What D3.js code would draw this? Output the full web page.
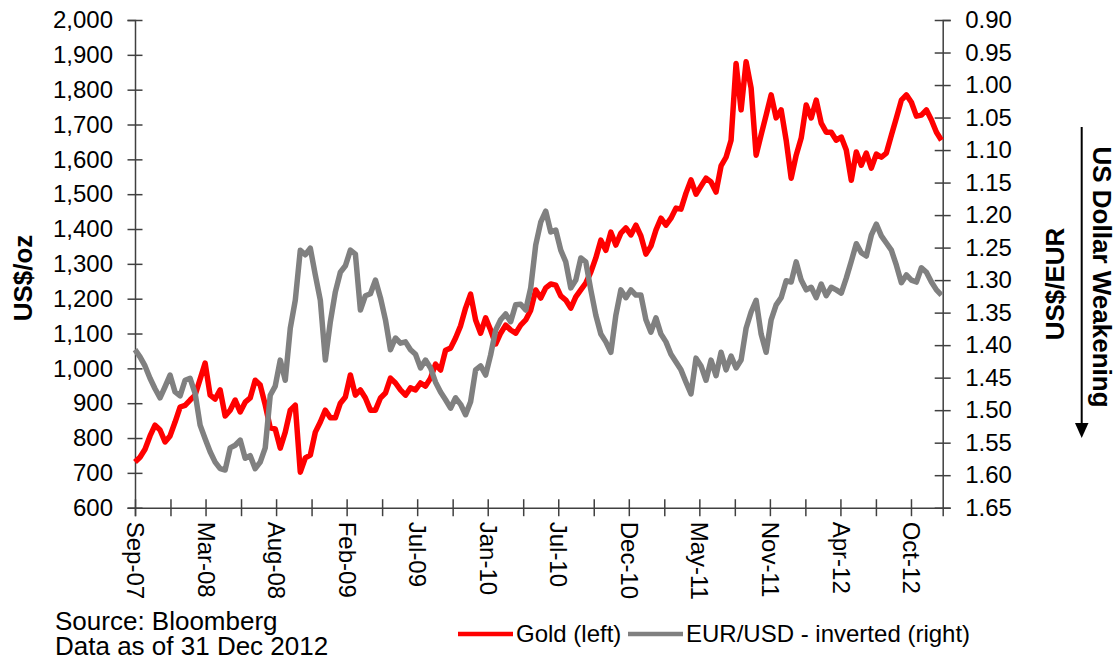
<!DOCTYPE html>
<html>
<head>
<meta charset="utf-8">
<style>
    body { margin: 0; background: #fff; }
    svg { display: block; font-family: "Liberation Sans", Arial, sans-serif; }
    .axis path, .axis line { stroke: #404040; stroke-width: 1.5; }
    .axis text { font-size: 24px; fill: #000; }
    .title { font-size: 26px; font-weight: bold; fill: #000; }
    .note { font-size: 24px; fill: #000; }
    .source { font-size: 26px; fill: #000; }
</style>
<script src="https://d3js.org/d3.v7.min.js"></script>
</head>
<body>
<svg width="1120" height="661"></svg>

<script>
    // data: one point every 12 days from 14 Sep 2007
    var startDate = new Date(2007, 8, 14);
    var endDate = new Date(2012, 11, 31);
    var stepDays = 12;

    // gold, US$/oz
    var gold = [
        731, 745, 768, 806, 837, 823, 789, 806, 846, 889,
        894, 909, 923, 969, 1015, 923, 912, 938, 863, 880,
        909, 875, 903, 915, 966, 952, 895, 829, 826, 771,
        817, 880, 894, 702, 743, 751, 817, 846, 880, 858,
        858, 900, 918, 981, 923, 938, 915, 880, 880, 915,
        929, 972, 958, 938, 923, 944, 938, 958, 949, 972,
        1012, 995, 1052, 1058, 1087, 1122, 1173, 1213, 1139, 1101,
        1145, 1110, 1070, 1101, 1124, 1110, 1101, 1124, 1139, 1167,
        1225, 1202, 1231, 1242, 1239, 1208, 1196, 1173, 1205, 1225,
        1245, 1276, 1317, 1368, 1339, 1391, 1354, 1388, 1403, 1383,
        1411, 1380, 1328, 1351, 1397, 1431, 1411, 1431, 1460, 1457,
        1503, 1541, 1500, 1523, 1546, 1535, 1506, 1581, 1606, 1655,
        1875, 1742, 1880, 1805, 1612, 1670, 1727, 1785, 1719, 1742,
        1655, 1546, 1612, 1661, 1756, 1719, 1770, 1704, 1678, 1678,
        1655, 1664, 1627, 1540, 1621, 1583, 1618, 1575, 1615, 1606,
        1618, 1669, 1719, 1770, 1785, 1764, 1724, 1727, 1742, 1713, 1678, 1655
    ];

    // EUR/USD, US$ per EUR (drawn on an inverted axis)
    var eurusd = [
        1.407, 1.418, 1.432, 1.451, 1.467, 1.481, 1.464, 1.446, 1.472, 1.478,
        1.454, 1.451, 1.474, 1.523, 1.544, 1.564, 1.580, 1.590, 1.592, 1.558,
        1.554, 1.546, 1.574, 1.570, 1.590, 1.580, 1.558, 1.477, 1.463, 1.423,
        1.454, 1.374, 1.331, 1.254, 1.261, 1.251, 1.292, 1.331, 1.423, 1.364,
        1.318, 1.288, 1.278, 1.254, 1.260, 1.346, 1.324, 1.321, 1.300, 1.327,
        1.361, 1.407, 1.389, 1.397, 1.395, 1.407, 1.414, 1.435, 1.423, 1.435,
        1.457, 1.472, 1.484, 1.497, 1.481, 1.491, 1.507, 1.487, 1.438, 1.432,
        1.446, 1.415, 1.377, 1.361, 1.352, 1.364, 1.338, 1.337, 1.346, 1.312,
        1.246, 1.211, 1.194, 1.226, 1.223, 1.254, 1.272, 1.312, 1.300, 1.266,
        1.272, 1.315, 1.354, 1.383, 1.395, 1.411, 1.354, 1.315, 1.327, 1.315,
        1.323, 1.323, 1.361, 1.380, 1.358, 1.383, 1.395, 1.414, 1.426, 1.438,
        1.457, 1.475, 1.420, 1.432, 1.454, 1.423, 1.447, 1.411, 1.438, 1.417,
        1.435, 1.423, 1.374, 1.349, 1.331, 1.383, 1.411, 1.361, 1.338, 1.327,
        1.301, 1.303, 1.272, 1.300, 1.315, 1.311, 1.327, 1.306, 1.324, 1.311,
        1.315, 1.320, 1.297, 1.271, 1.244, 1.258, 1.263, 1.231, 1.214, 1.232,
        1.243, 1.254, 1.277, 1.304, 1.292, 1.300, 1.303, 1.281, 1.288, 1.303, 1.315, 1.323
    ];

    var goldTicks = [600, 700, 800, 900, 1000, 1100, 1200, 1300, 1400, 1500, 1600, 1700, 1800, 1900, 2000];
    var fxTicks = [0.90, 0.95, 1.00, 1.05, 1.10, 1.15, 1.20, 1.25, 1.30, 1.35, 1.40, 1.45, 1.50, 1.55, 1.60, 1.65];
    var xLabels = ["Sep-07", "Mar-08", "Aug-08", "Feb-09", "Jul-09", "Jan-10",
                   "Jul-10", "Dec-10", "May-11", "Nov-11", "Apr-12", "Oct-12"];
    var seriesNames = ["Gold (left)", "EUR/USD - inverted (right)"];
    var colors = ["#ff0000", "#808080"];

    var svg = d3.select("svg");
    var plotLeft = 135, plotRight = 942.7, plotTop = 20, plotBottom = 507.7;

    var x = d3.scaleTime().domain([startDate, endDate]).range([plotLeft, plotRight]);
    var yGold = d3.scaleLinear().domain([600, 2000]).range([plotBottom, plotTop]);
    var yFx = d3.scaleLinear().domain([0.90, 1.65]).range([plotTop, plotBottom]);   // inverted

    function dateOf(i) { return d3.timeDay.offset(startDate, i * stepDays); }

    // x ticks: 23 evenly spaced, labelled every second one
    var tickDates = d3.range(xLabels.length * 2 - 1).map(function(i) {
        return d3.timeDay.offset(startDate, Math.round(i * 84.5));
    });

    var gx = svg.append("g")
        .attr("class", "axis")
        .attr("transform", "translate(0," + plotBottom + ")")
        .call(d3.axisBottom(x).tickValues(tickDates).tickSizeOuter(0).tickSize(8.5)
            .tickFormat(function(d, i) { return i % 2 == 0 ? xLabels[i / 2] : ""; }));
    gx.selectAll(".tick line").attr("y1", -8.5);
    gx.selectAll(".tick text")
        .attr("transform", "rotate(90)")
        .attr("x", 14)
        .attr("y", 0)
        .attr("dy", "0.35em")
        .attr("text-anchor", "start");

    var gl = svg.append("g")
        .attr("class", "axis")
        .attr("transform", "translate(" + plotLeft + ",0)")
        .call(d3.axisLeft(yGold).tickValues(goldTicks).tickSizeOuter(0).tickSize(7.5).tickPadding(14.5)
            .tickFormat(d3.format(",")));
    gl.selectAll(".tick line").attr("x1", 7.5);

    var gr = svg.append("g")
        .attr("class", "axis")
        .attr("transform", "translate(" + plotRight + ",0)")
        .call(d3.axisRight(yFx).tickValues(fxTicks).tickSizeOuter(0).tickSize(8).tickPadding(14.5)
            .tickFormat(d3.format(".2f")));
    gr.selectAll(".tick line").attr("x1", -8);

    // lines
    var goldLine = d3.line()
        .x(function(d, i) { return x(dateOf(i)); })
        .y(function(d) { return yGold(d); });
    var fxLine = d3.line()
        .x(function(d, i) { return x(dateOf(i)); })
        .y(function(d) { return yFx(d); });

    svg.append("path").datum(gold)
        .attr("d", goldLine)
        .attr("fill", "none").attr("stroke", colors[0])
        .attr("stroke-width", 5.5).attr("stroke-linejoin", "round");
    svg.append("path").datum(eurusd)
        .attr("d", fxLine)
        .attr("fill", "none").attr("stroke", colors[1])
        .attr("stroke-width", 5.5).attr("stroke-linejoin", "round");

    // axis titles
    svg.append("text").attr("class", "title")
        .attr("transform", "translate(32,278) rotate(-90)")
        .attr("text-anchor", "middle").text("US$/oz");
    svg.append("text").attr("class", "title")
        .attr("transform", "translate(1064,284) rotate(-90)")
        .attr("text-anchor", "middle").text("US$/EUR");
    svg.append("text").attr("class", "title")
        .attr("transform", "translate(1093,277) rotate(90)")
        .attr("text-anchor", "middle").text("US Dollar Weakening");

    // arrow
    svg.append("line")
        .attr("x1", 1081.7).attr("y1", 127).attr("x2", 1081.7).attr("y2", 425)
        .attr("stroke", "#000").attr("stroke-width", 2);
    svg.append("path")
        .attr("d", "M1075,423L1088.5,423L1081.7,438Z")
        .attr("fill", "#000");

    // legend
    var legX = [458, 628];
    seriesNames.forEach(function(name, i) {
        svg.append("line")
            .attr("x1", legX[i]).attr("x2", legX[i] + 55)
            .attr("y1", 634).attr("y2", 634)
            .attr("stroke", colors[i]).attr("stroke-width", 4.5);
        svg.append("text").attr("class", "note")
            .attr("x", legX[i] + 58).attr("y", 634).attr("dy", "0.35em")
            .text(name);
    });

    // source note
    svg.append("text").attr("class", "source").attr("x", 55).attr("y", 630).text("Source: Bloomberg");
    svg.append("text").attr("class", "source").attr("x", 55).attr("y", 655).text("Data as of 31 Dec 2012");
</script>
</body>
</html>
